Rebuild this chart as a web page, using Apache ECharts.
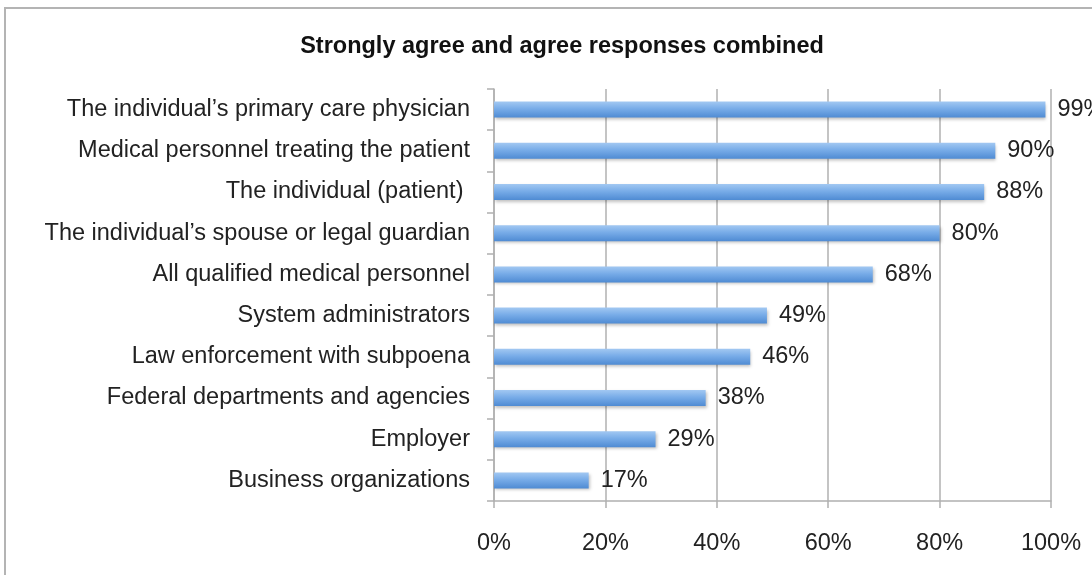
<!DOCTYPE html>
<html>
<head>
<meta charset="utf-8">
<script src="https://cdn.jsdelivr.net/npm/echarts@6/dist/echarts.min.js"></script>
<style>
html,body{margin:0;padding:0;background:#fff;}
#frame{position:absolute;left:4px;top:7px;width:1200px;height:700px;border:2px solid #b4b4b4;box-sizing:border-box;}
#chart{position:absolute;left:0;top:0;width:1092px;height:575px;}
</style>
</head>
<body>
<div id="frame"></div>
<div id="chart"></div>
<script>
const title = 'Strongly agree and agree responses combined';
const categories = [
  'The individual\u2019s primary care physician',
  'Medical personnel treating the patient',
  'The individual (patient) ',
  'The individual\u2019s spouse or legal guardian',
  'All qualified medical personnel',
  'System administrators',
  'Law enforcement with subpoena',
  'Federal departments and agencies',
  'Employer',
  'Business organizations'
];
const values = [99, 90, 88, 80, 68, 49, 46, 38, 29, 17];
const xTicks = [0, 20, 40, 60, 80, 100];

const chart = echarts.init(document.getElementById('chart'), null, {renderer: 'canvas'});
const font = '"Liberation Sans", Arial, Helvetica, sans-serif';
chart.setOption({
  backgroundColor: 'transparent',
  animation: false,
  title: {
    text: title,
    left: 557, top: 30, textAlign: 'center',
    textStyle: {fontFamily: font, fontSize: 23.5, fontWeight: 'bold', color: '#111'}
  },
  grid: {left: 494, right: 41, top: 89, bottom: 74, containLabel: false},
  xAxis: {
    type: 'value', min: xTicks[0], max: xTicks[xTicks.length - 1], interval: 20,
    axisLine: {show: true, lineStyle: {color: '#b0b0b0', width: 1.5}},
    axisTick: {show: true, length: 7, lineStyle: {color: '#b0b0b0', width: 1.5}},
    splitLine: {show: true, lineStyle: {color: '#b0b0b0', width: 1.5}},
    axisLabel: {formatter: '{value}%', margin: 31, fontFamily: font, fontSize: 23.5, color: '#222'}
  },
  yAxis: {
    type: 'category', data: categories, inverse: true,
    axisLine: {show: true, lineStyle: {color: '#b0b0b0', width: 1.5}},
    axisTick: {show: true, length: 7, alignWithLabel: false, lineStyle: {color: '#b0b0b0', width: 1.5}},
    axisLabel: {margin: 24, padding: [5, 0, 0, 0], fontFamily: font, fontSize: 23.5, color: '#222'}
  },
  series: [{
    type: 'bar', data: values, barWidth: 16,
    itemStyle: {
      color: new echarts.graphic.LinearGradient(0, 0, 0, 1, [
        {offset: 0, color: '#a2c8f2'},
        {offset: 0.45, color: '#78ace8'},
        {offset: 1, color: '#4f8bd3'}
      ]),
      shadowColor: 'rgba(0,0,0,0.25)', shadowBlur: 3, shadowOffsetY: 2, shadowOffsetX: 1
    },
    label: {
      show: true, position: 'right', distance: 12, padding: [4, 0, 0, 0], formatter: '{c}%',
      fontFamily: font, fontSize: 23.5, color: '#222'
    }
  }]
});
</script>
</body>
</html>
